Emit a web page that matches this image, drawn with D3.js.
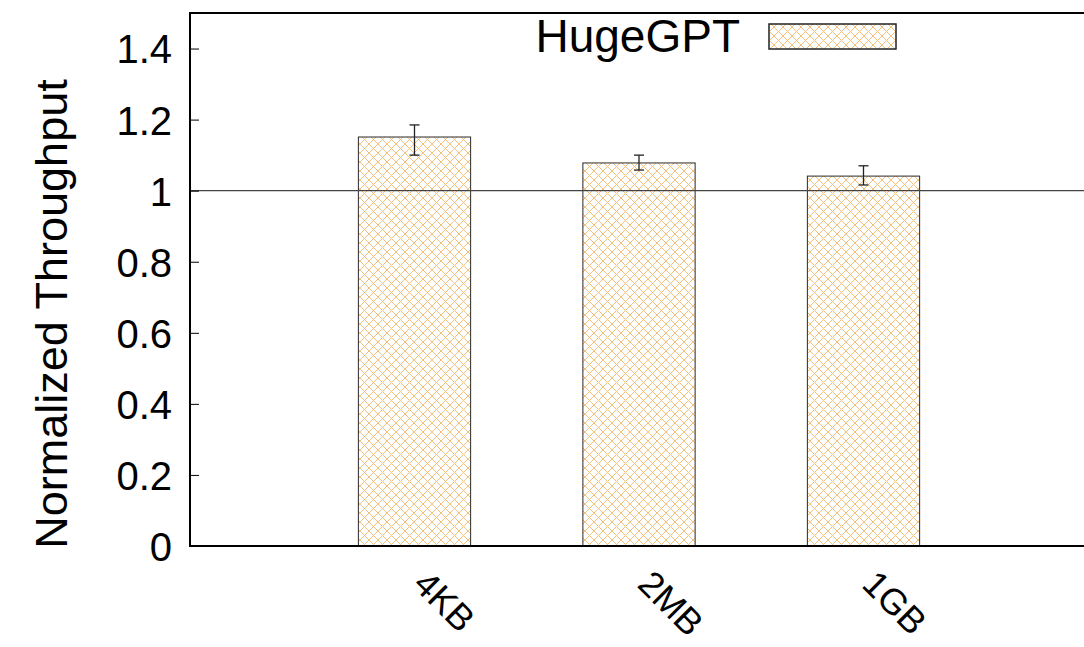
<!DOCTYPE html>
<html lang="en">
<head>
    <meta charset="utf-8">
    <title>Normalized Throughput</title>
    <script src="https://cdn.jsdelivr.net/npm/d3@7/dist/d3.min.js"></script>
    <style>
        body { margin: 0; background: #fff; }
        text { font-family: "Liberation Sans", Arial, Helvetica, sans-serif; fill: #000; }
        .axis path { display: none; }
        .axis line { stroke: #000; stroke-width: 1; }
    </style>
</head>
<body>
<svg id="chart" width="1084" height="647"></svg>
<script>
    // data
    var categories = ["4KB", "2MB", "1GB"];
    var values = [1.151, 1.078, 1.041];
    var errLow = [1.100, 1.058, 1.016];
    var errHigh = [1.185, 1.100, 1.070];
    var yTicks = [0, 0.2, 0.4, 0.6, 0.8, 1, 1.2, 1.4];
    var seriesName = "HugeGPT";
    var baseline = 1;

    var svg = d3.select("#chart");

    var plotLeft = 190, plotTop = 13, plotBottom = 546;
    var x = d3.scaleLinear().domain([-1, 3]).range([plotLeft, 1088]);
    var y = d3.scaleLinear().domain([0, 1.5]).range([plotBottom, plotTop]);
    var barW = x(0.5) - x(0);

    // crosshatch fill
    var pat = svg.append("defs").append("pattern")
        .attr("id", "hatch")
        .attr("patternUnits", "userSpaceOnUse")
        .attr("width", 9).attr("height", 9);
    pat.append("rect").attr("width", 9).attr("height", 9).attr("fill", "#fff");
    pat.append("path")
        .attr("d", "M0,0L9,9M9,0L0,9M-1,8L1,10M8,-1L10,1M-1,1L1,-1M8,10L10,8")
        .attr("stroke", "#f4c07c")
        .attr("stroke-width", 1)
        .attr("fill", "none");

    // bars
    svg.selectAll(".bar")
        .data(values)
        .enter().append("rect")
        .attr("class", "bar")
        .attr("x", function(d, i) { return x(i) - barW / 2; })
        .attr("y", function(d) { return y(d); })
        .attr("width", barW)
        .attr("height", function(d) { return y(0) - y(d); })
        .attr("fill", "url(#hatch)")
        .attr("stroke", "#2a2a2a")
        .attr("stroke-width", 1);

    // reference line at 1
    svg.append("line")
        .attr("x1", plotLeft).attr("x2", 1084)
        .attr("y1", y(baseline)).attr("y2", y(baseline))
        .attr("stroke", "#444").attr("stroke-width", 1.2);

    // error bars
    var err = svg.selectAll(".err")
        .data(values)
        .enter().append("g")
        .attr("class", "err")
        .attr("stroke", "#222")
        .attr("stroke-width", 1.3);
    err.append("line")
        .attr("x1", function(d, i) { return x(i); })
        .attr("x2", function(d, i) { return x(i); })
        .attr("y1", function(d, i) { return y(errLow[i]); })
        .attr("y2", function(d, i) { return y(errHigh[i]); });
    err.append("line")
        .attr("x1", function(d, i) { return x(i) - 5; })
        .attr("x2", function(d, i) { return x(i) + 5; })
        .attr("y1", function(d, i) { return y(errLow[i]); })
        .attr("y2", function(d, i) { return y(errLow[i]); });
    err.append("line")
        .attr("x1", function(d, i) { return x(i) - 5; })
        .attr("x2", function(d, i) { return x(i) + 5; })
        .attr("y1", function(d, i) { return y(errHigh[i]); })
        .attr("y2", function(d, i) { return y(errHigh[i]); });

    // y axis with inward ticks
    var yAxis = svg.append("g")
        .attr("class", "axis")
        .attr("transform", "translate(" + plotLeft + ",0)")
        .call(d3.axisLeft(y).tickValues(yTicks).tickSize(-9).tickPadding(18)
            .tickFormat(function(d) { return d; }));
    yAxis.selectAll("text")
        .attr("dy", "0.36em")
        .style("font-size", "40px");

    // frame
    svg.append("rect")
        .attr("x", plotLeft).attr("y", plotTop)
        .attr("width", x(3) - plotLeft).attr("height", plotBottom - plotTop)
        .attr("fill", "none")
        .attr("stroke", "#000")
        .attr("stroke-width", 2);

    // x labels, rotated
    svg.selectAll(".xlabel")
        .data(categories)
        .enter().append("text")
        .attr("class", "xlabel")
        .attr("transform", function(d, i) {
            return "translate(" + (x(i) - 3) + ",586) rotate(45)";
        })
        .attr("text-anchor", "start")
        .style("font-size", "36px")
        .text(function(d) { return d; });

    // y title
    svg.append("text")
        .attr("transform", "translate(67,314) rotate(-90)")
        .attr("text-anchor", "middle")
        .style("font-size", "45px")
        .text("Normalized Throughput");

    // legend
    svg.append("text")
        .attr("x", 740).attr("y", 52)
        .attr("text-anchor", "end")
        .style("font-size", "46px")
        .text(seriesName);
    svg.append("rect")
        .attr("x", 769).attr("y", 24)
        .attr("width", 127).attr("height", 25)
        .attr("fill", "url(#hatch)")
        .attr("stroke", "#222")
        .attr("stroke-width", 1.5);
</script>
</body>
</html>
